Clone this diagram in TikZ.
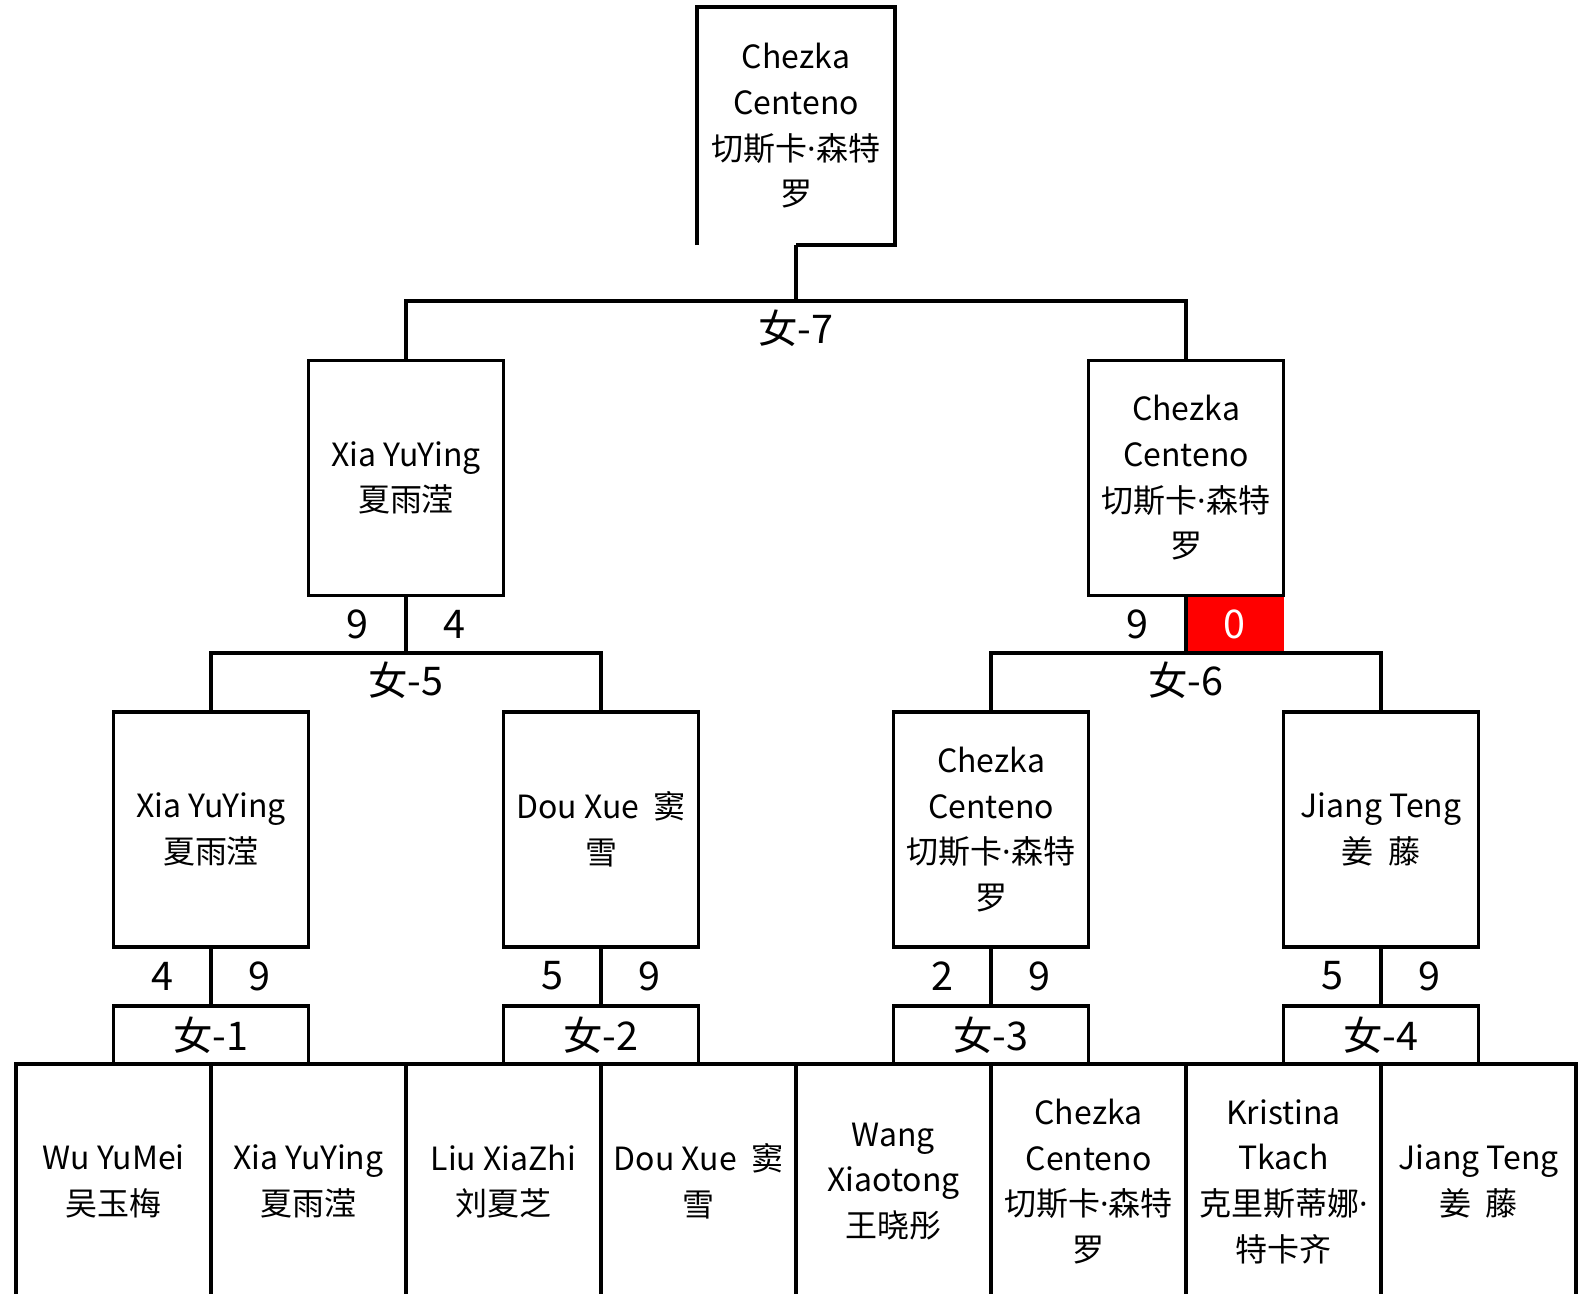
\documentclass[tikz,border=0pt]{standalone}
\usepackage{fontspec}
\setmainfont{Noto Sans CJK SC}
\newfontfamily\dotfont{Noto Sans}
\newcommand{\mdot}{{\dotfont ·}}
\tikzset{
  bracket/.style={line width=0.065cm},
  player/.style={bracket, draw, minimum width=3.9cm, minimum height=4.7cm, inner sep=0pt, align=center, font=\fontsize{18.2}{26}\selectfont},
  matchbox/.style={bracket, draw, minimum width=3.9cm, minimum height=1.16cm, inner sep=0pt, font=\fontsize{22.5}{26}\selectfont},
  score/.style={minimum width=1.95cm, minimum height=1.16cm, inner sep=0pt, font=\fontsize{22.5}{26}\selectfont},
  loss/.style={score, fill=red, text=white},
  tag/.style={inner sep=0pt, font=\fontsize{22.5}{26}\selectfont},
}
\begin{document}
\begin{tikzpicture}[x=0.02cm, y=-0.02cm]
\useasboundingbox (0,0) rectangle (1583,1294);
\clip (0,0) rectangle (1583,1294);

% Marking score 0 of match 6 (red cell, kept under the lines)
\node[loss] (s6b) at (1234.75,624) {0};

% Drawing winner box (open at bottom left)
\node[player, draw=none] (win) at (796,126) {Chezka\\Centeno\\切斯卡\mdot 森特\\罗};
\draw[bracket] (win.south west) -- (win.north west) -- (win.north east) -- (win.south east) -- (win.south);

% Drawing match 7
\coordinate (j7) at (796,301);
\draw[bracket] (win.south) -- (j7);
\node[player] (semi1) at (406,478) {Xia YuYing\\夏雨滢};
\node[player] (semi2) at (1186,478) {Chezka\\Centeno\\切斯卡\mdot 森特\\罗};
\draw[bracket] (semi1.north) |- (j7) -| (semi2.north);
\node[tag] (t7) at (796,328) {女-7};

% Marking scores of match 5 and match 6
\node[score] (s5a) at (357.25,624) {9};
\node[score] (s5b) at (454.75,624) {4};
\node[score] (s6a) at (1137.25,624) {9};

% Drawing match 5
\coordinate (j5) at (406,653);
\draw[bracket] (semi1.south) -- (j5);
\node[player] (qf1) at (211,829.5) {Xia YuYing\\夏雨滢};
\node[player] (qf2) at (601,829.5) {Dou Xue\ \ 窦\\雪};
\draw[bracket] (qf1.north) |- (j5) -| (qf2.north);
\node[tag] (t5) at (406,680) {女-5};

% Drawing match 6
\coordinate (j6) at (1186,653);
\draw[bracket] (semi2.south) -- (j6);
\node[player] (qf3) at (991,829.5) {Chezka\\Centeno\\切斯卡\mdot 森特\\罗};
\node[player] (qf4) at (1381,829.5) {Jiang Teng\\姜\ \ 藤};
\draw[bracket] (qf3.north) |- (j6) -| (qf4.north);
\node[tag] (t6) at (1186,680) {女-6};

% Drawing match boxes 1 to 4
\node[matchbox] (m1) at (211,1035) {女-1};
\node[matchbox] (m2) at (601,1035) {女-2};
\node[matchbox] (m3) at (991,1035) {女-3};
\node[matchbox] (m4) at (1381,1035) {女-4};
\draw[bracket] (qf1.south) -- (m1.north);
\draw[bracket] (qf2.south) -- (m2.north);
\draw[bracket] (qf3.south) -- (m3.north);
\draw[bracket] (qf4.south) -- (m4.north);

% Marking scores of matches 1 to 4
\node[score] (s1a) at (162.25,976) {4};
\node[score] (s1b) at (259.75,976) {9};
\node[score] (s2a) at (552.25,976) {5};
\node[score] (s2b) at (649.75,976) {9};
\node[score] (s3a) at (942.25,976) {2};
\node[score] (s3b) at (1039.75,976) {9};
\node[score] (s4a) at (1332.25,976) {5};
\node[score] (s4b) at (1429.75,976) {9};

% Drawing first round players
\node[player] (p1) at (113.5,1181.5) {Wu YuMei\\吴玉梅};
\node[player] (p2) at (308.5,1181.5) {Xia YuYing\\夏雨滢};
\node[player] (p3) at (503.5,1181.5) {Liu XiaZhi\\刘夏芝};
\node[player] (p4) at (698.5,1181.5) {Dou Xue\ \ 窦\\雪};
\node[player] (p5) at (893.5,1181.5) {Wang\\Xiaotong\\王晓彤};
\node[player] (p6) at (1088.5,1181.5) {Chezka\\Centeno\\切斯卡\mdot 森特\\罗};
\node[player] (p7) at (1283.5,1181.5) {Kristina\\Tkach\\克里斯蒂娜\mdot\\特卡齐};
\node[player] (p8) at (1478.5,1181.5) {Jiang Teng\\姜\ \ 藤};
\end{tikzpicture}
\end{document}
